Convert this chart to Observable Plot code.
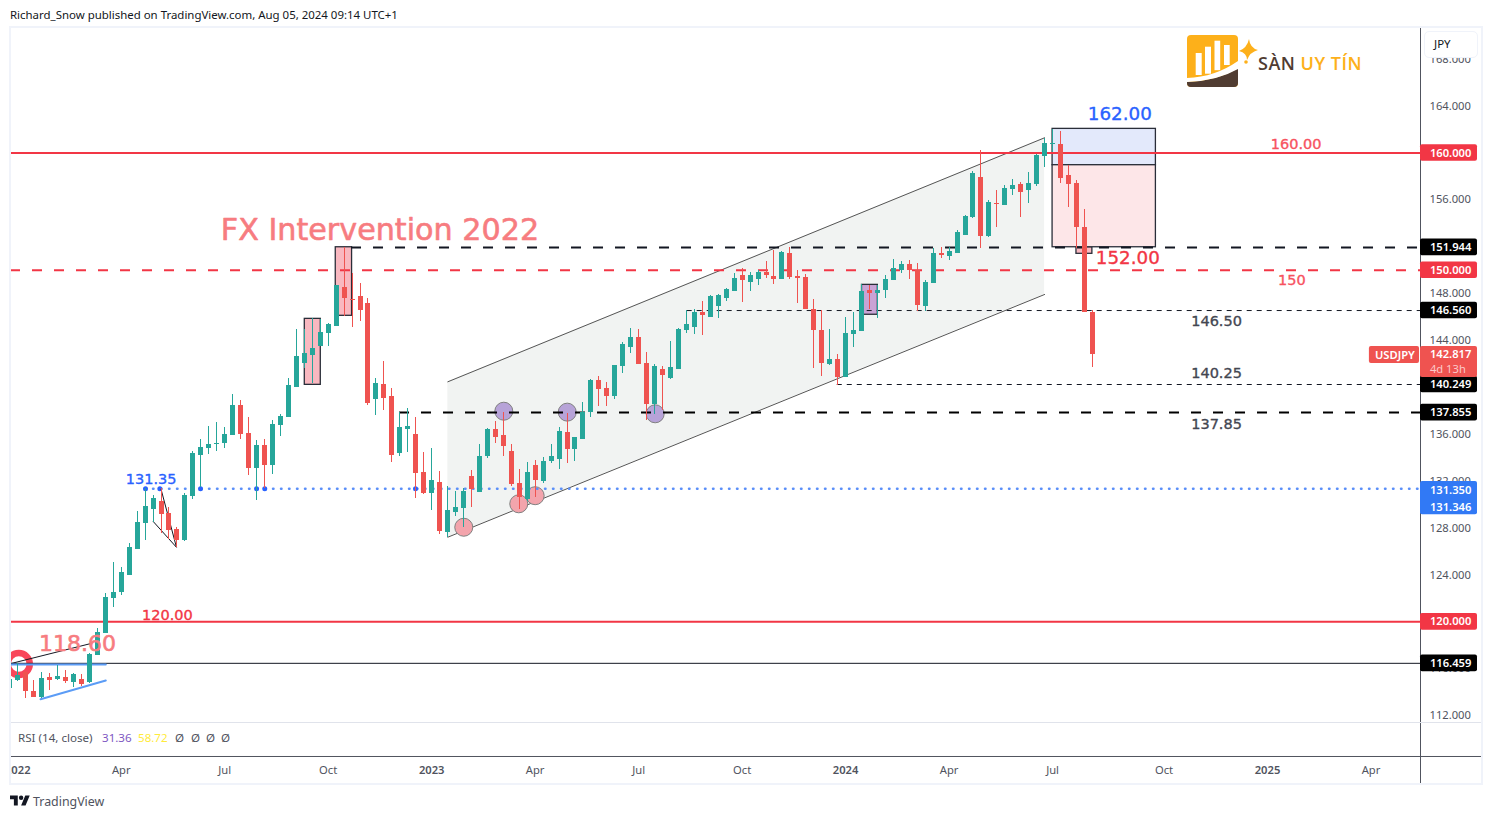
<!DOCTYPE html>
<html>
<head>
<meta charset="utf-8">
<script src="https://cdn.jsdelivr.net/npm/d3@7"></script>
<script src="https://cdn.jsdelivr.net/npm/@observablehq/plot@0.6"></script>
<style>
html,body{margin:0;padding:0;background:#fff;width:1492px;height:819px;overflow:hidden;font-family:"Noto Sans",Arial,sans-serif}
#head{position:absolute;left:10px;top:8px;font-size:11.45px;line-height:14px;color:#131722;white-space:nowrap}
#chart{position:absolute;left:0;top:27px;width:1492px;height:757px}
#chart svg{display:block;background:transparent}
#frame{position:absolute;left:9px;top:26px;width:1470px;height:755px;border:2px solid #f0f3fa;pointer-events:none;z-index:3}
#mask{position:absolute;left:0;top:27px;width:10px;height:757px;background:#fff;z-index:2}
#rsi{position:absolute;left:18px;top:731px;font-size:11.6px;line-height:14px;color:#50535e;white-space:nowrap;z-index:4}
#rsi span{position:absolute;top:0}
#jpy{position:absolute;left:1424px;top:31px;width:52px;height:25px;border:1.5px solid #f0f3fa;border-radius:5px;background:#fff;font-size:11.5px;line-height:24px;color:#131722;z-index:4;text-indent:9px}
#foot{position:absolute;left:10px;top:793px;height:16px;color:#50535e;font-size:12.4px;line-height:17px;z-index:4;display:flex;gap:3px;align-items:center}
#logo{position:absolute;left:1187px;top:35px;z-index:4}
#logoText{position:absolute;left:1258px;top:52px;font:600 18px/22px "Open Sans",sans-serif;letter-spacing:.5px;color:#503c32;z-index:4;white-space:nowrap}
#logoText b{color:#fdb01a;font-weight:600}
</style>
</head>
<body>
<div id="head">Richard_Snow published on TradingView.com, Aug 05, 2024 09:14 UTC+1</div>
<div id="chart"></div>
<div id="mask"></div>
<div id="frame"></div>
<div id="jpy">JPY</div>
<div id="rsi">RSI (14, close)<span style="left:84px;color:#7e57c2">31.36</span><span style="left:120px;color:#ffeb3b">58.72</span><span style="left:157px">Ø</span><span style="left:173px">Ø</span><span style="left:188px">Ø</span><span style="left:203px">Ø</span></div>
<svg id="logo" width="80" height="54" viewBox="0 0 80 54">
<rect width="51" height="52" rx="4" fill="#fdb01a"/>
<path d="M0 47Q30 46 51 33V48a4 4 0 0 1-4 4H4a4 4 0 0 1-4-4Z" fill="#503c32"/>
<path d="M0 43Q28 42 51 26V34Q30 46 0 47Z" fill="#fff"/>
<rect x="8.7" y="18" width="6" height="22" fill="#fff"/><rect x="18" y="11.7" width="6" height="27" fill="#fff"/><rect x="27.5" y="5.7" width="5.7" height="29.5" fill="#fff"/><rect x="37" y="10" width="5.7" height="20" fill="#fff"/>
<path d="M62 4Q63 13 71 15Q63 17 60 25Q60 18 52 16Q60 13 62 4Z" fill="#fdb01a"/>
<circle cx="59" cy="27" r="1.8" fill="#fdb01a"/>
</svg>
<div id="logoText">SÀN <b>UY TÍN</b></div>
<div id="foot"><svg width="20" height="16" viewBox="0 0 36 28"><path d="M14 22H7V11H0V4h14v18zM28 22h-8l7.5-18h8L28 22z" fill="#131722"/><circle cx="20" cy="8" r="4" fill="#131722"/></svg><span>TradingView</span></div>
<script>
// weekly USD/JPY candles
const open=[114.31,115.0,115.68,114.06,113.57,115.25,115.11,115.25,114.85,115.08,114.85,117.13,119.03,122.02,122.50,123.95,126.20,128.42,129.61,130.27,129.24,127.88,126.94,130.72,134.19,134.79,135.16,135.22,135.90,138.46,136.07,133.08,135.05,133.36,136.75,137.46,140.02,142.04,142.72,143.49,144.63,145.2,148.50,147.48,147.76,147.16,138.99,140.25,139.23,134.36,136.44,135.98,132.74,130.95,131.89,127.62,129.33,129.67,132.40,131.03,134.11,136.41,135.90,134.53,131.80,130.44,133.34,131.97,133.68,133.85,136.15,134.70,135.56,137.86,140.59,139.91,139.23,141.79,143.41,144.26,142.04,138.54,141.53,140.76,141.53,144.86,145.11,146.39,145.97,146.90,147.59,148.18,149.55,148.95,149.21,149.80,149.46,149.21,151.43,149.46,149.38,146.65,144.86,141.96,142.38,140.85,144.52,144.77,148.27,148.01,148.27,149.12,149.97,150.49,149.97,146.90,148.87,151.43,151.17,151.43,152.96,154.50,157.91,152.88,155.69,155.52,156.89,157.31,156.80,157.31,159.70,160.73,160.73,158.08,157.40,153.64,146.39];
const high=[115.34,116.44,115.76,115.0,115.68,115.59,116.27,115.85,115.62,115.48,117.27,119.41,122.39,125.06,124.66,126.66,129.41,131.35,130.78,131.35,129.78,128.07,130.92,134.53,135.53,136.67,137.01,136.55,139.39,138.88,137.46,135.47,135.56,137.18,137.69,140.73,144.94,144.94,145.86,145.82,145.43,148.7,151.95,149.74,148.84,147.56,140.73,142.21,139.88,137.86,138.17,137.43,134.45,134.79,132.83,131.55,131.12,131.38,132.91,135.13,136.50,137.09,137.83,135.13,133.0,133.59,133.76,134.02,135.13,136.58,137.77,135.73,138.71,140.65,140.93,140.42,141.87,143.83,145.03,144.94,142.98,141.96,141.79,143.92,145.03,146.56,146.62,147.33,147.84,147.93,148.44,149.72,150.15,149.80,149.97,150.74,151.68,151.60,151.94,149.97,149.63,147.50,146.56,144.94,142.81,145.97,146.39,148.78,148.70,148.70,149.55,150.91,150.74,150.83,150.57,149.12,151.85,151.94,151.94,153.39,154.67,158.42,160.21,155.95,156.80,157.23,157.74,157.48,158.34,159.87,161.24,162.0,161.84,158.93,157.65,155.18,146.56];
const low=[114.14,114.91,113.48,113.54,113.46,114.14,114.97,114.76,114.42,114.48,114.76,117.13,119.03,121.25,122.25,123.95,126.20,126.94,128.50,127.51,127.0,126.37,126.88,130.46,131.49,134.28,134.56,134.81,135.90,135.56,132.49,130.35,131.35,132.57,135.81,137.46,140.02,141.64,140.36,143.49,143.49,145.2,146.05,145.14,145.65,138.46,137.63,138.03,133.62,134.11,134.45,130.52,130.86,129.50,127.45,127.22,128.99,128.07,129.78,131.03,133.94,135.22,134.11,131.55,129.56,130.27,130.63,131.80,133.51,132.98,133.51,133.68,135.56,137.43,138.37,138.37,138.97,141.19,142.89,141.96,137.18,137.69,138.03,140.68,141.53,144.63,144.52,144.43,145.97,145.88,147.33,148.18,147.25,148.18,148.70,149.29,148.78,149.21,149.21,147.16,146.65,141.61,140.93,141.87,140.16,140.85,143.41,144.77,146.65,145.88,147.59,149.12,149.72,149.21,146.48,146.48,148.87,151.0,150.83,151.43,152.96,154.41,151.85,152.79,153.64,155.52,156.38,154.50,155.69,157.14,158.76,160.05,157.40,155.35,151.85,146.39,141.70];
const close=[115.08,115.42,114.08,113.57,115.16,115.02,115.33,114.93,115.51,114.68,117.21,119.09,122.05,122.50,124.21,126.32,128.45,129.84,130.50,129.16,127.79,126.94,130.78,134.36,134.87,135.13,135.24,135.98,138.46,135.98,133.08,135.05,133.36,136.84,137.52,140.16,142.64,142.87,143.32,144.69,145.37,148.7,147.59,147.42,146.56,138.65,140.33,139.05,134.19,136.58,136.67,132.65,130.95,132.06,127.71,129.50,129.75,131.12,131.29,134.11,136.41,135.73,134.96,131.72,130.61,132.74,132.06,133.68,134.11,136.24,134.70,135.73,137.86,140.56,139.82,139.23,141.87,143.66,144.26,141.96,138.54,141.79,141.02,141.70,144.94,145.37,146.39,146.14,147.76,147.84,148.35,149.29,149.12,149.55,149.80,149.55,149.21,151.51,149.38,149.29,146.65,144.86,142.04,142.38,140.85,144.60,144.86,148.18,148.01,148.27,149.21,150.15,150.49,149.97,146.99,148.95,151.43,151.26,151.60,153.22,154.58,158.25,152.88,155.78,155.60,156.97,157.23,156.63,157.40,159.79,160.81,160.81,157.82,157.31,153.64,146.39,142.82];

// axes
const priceTicks=[112,116,120,124,128,132,136,140,144,148,152,156,160,164,168];
const monthBars=[14,27,40,66,79,92,118,131,145,171];
const monthNames=["Apr","Jul","Oct","Apr","Jul","Oct","Apr","Jul","Oct","Apr"];
const yearBars=[1,53,105,158];
const yearNames=["2022","2023","2024","2025"];

// horizontal levels
const levelValues=[160,150,151.944,146.56,140.249,137.855,131.35,120,116.459];
const levelStart=[0.09,0.09,42.93,85.1,103.95,48.96,17.05,0.09,0.09];
const blueTouches=[17.05,18.85,23.96,31,32.03,50.97];

// price-scale tags
const tagValues=[160,151.944,150,146.56,140.249,137.855,120,116.459];
const tagColors=["#f23645","#000","#f23645","#000","#000","#000","#f23645","#000"];

// drawings
const channelBars=[55.03,130];
const channelUpper=[140.48,161.30];
const channelLower=[127.22,147.93];
const boxLeft=[37.06,40.95,107.06,134,131,131];
const boxRight=[39.07,43,109.05,136,143.98,143.98];
const boxTop=[145.85,151.96,148.75,151.96,162.06,158.96];
const boxBottom=[140.22,146.11,146.2,151.4,158.96,151.96];
const boxFills=["#f9b8c0","#f9b8c0","#c9a3d5","#f9b8c0","#e3e9fb","#fde6e8"];
const circleBars=[57.03,63.94,66,62.06,70.03,81.08];
const circlePrices=[128.07,130.07,130.76,137.97,137.89,137.75];
const circleFills=["#f3a4ac","#f3a4ac","#f3a4ac","#b7a3d8","#b7a3d8","#b7a3d8"];

// text notes
const noteText=["FX Intervention 2022","162.00","152.00","160.00","150","146.50","140.25","137.85","131.35","120.00","118.60"];
const noteBars=[46.5,139.45,140.45,161.6,161.05,151.6,151.6,151.6,17.75,19.8,8.5];
const notePrices=[153.39,163.29,151.0,160.77,149.12,145.62,141.19,136.84,132.14,120.54,118.07];
const noteSizes=[30.2,18.3,18.3,14.5,14.5,14.5,14.5,14.5,14.5,14.5,22];
const noteColors=["#f77c80","#2962ff","#f23645","#f7525f","#f7525f","#434651","#434651","#434651","#2962ff","#f23645","#f77c80"];

const bars=open.map((o,i)=>({i,o,h:high[i],l:low[i],c:close[i],col:close[i]>=o?"#26a69a":"#ef5350"}));
const xMin=0.09,xMax=177.22;
const tagX1=xMax,tagX2=184.38,tagTextX=178.4,scaleEnd=184.88;
const yBottom=111.41,yTop=170.71;
const GRAY="#50535e",TICKFONT='"Noto Sans",sans-serif',TICK=11.2;

const hline=(k,stroke,w,dash,cap)=>Plot.ruleY([levelValues[k]],{x1:levelStart[k],x2:xMax,stroke,strokeWidth:w,strokeDasharray:dash,strokeLinecap:cap});
const tagHalf=0.71;
const boxes=boxLeft.map((x1,k)=>({x1,x2:boxRight[k],y1:boxBottom[k],y2:boxTop[k],fill:boxFills[k]}));
const circles=circleBars.map((x,k)=>({x,y:circlePrices[k],fill:circleFills[k]}));
const notes=noteText.map((t,k)=>({t,x:noteBars[k],y:notePrices[k],s:noteSizes[k],c:noteColors[k]}));
const channel=channelBars.map((x,k)=>({x,hi:channelUpper[k],lo:channelLower[k]}));
const tags=tagValues.map((v,k)=>({v,c:tagColors[k]}));

const plot=Plot.plot({
  width:1492,height:757,
  marginLeft:10,marginRight:72,marginTop:0,marginBottom:62,
  style:{background:"transparent",fontFamily:TICKFONT,overflow:"visible"},
  x:{type:"linear",domain:[xMin,xMax],axis:null},
  y:{type:"linear",domain:[yBottom,yTop],axis:null},
  marks:[
    Plot.areaY(channel,{x:"x",y1:"lo",y2:"hi",fill:"#f1f3f2"}),
    Plot.line(channel,{x:"x",y:"hi",stroke:"#555",strokeWidth:1}),
    Plot.line(channel,{x:"x",y:"lo",stroke:"#555",strokeWidth:1}),
    Plot.rect(boxes,{x1:"x1",x2:"x2",y1:"y1",y2:"y2",fill:"fill",stroke:"#2a2e39",strokeWidth:1.3}),
    Plot.dot(circles,{x:"x",y:"y",r:9,fill:"fill",stroke:"#808080",strokeWidth:1}),
    Plot.dot([{x:1.13,y:116.4}],{x:"x",y:"y",r:11,fill:"none",stroke:"#f8465a",strokeWidth:6.5}),
    // levels
    hline(0,"#f23645",2),
    hline(1,"#f23645",2,"10,12"),
    hline(2,"#131722",2,"10,12"),
    hline(3,"#131722",1,"5,5"),
    hline(4,"#131722",1,"5,5"),
    hline(5,"#000",2,"10,12"),
    hline(6,"#5b8ff9",2.5,"0.5,7.5","round"),
    hline(7,"#f23645",2),
    hline(8,"#131722",1),
    Plot.dot(blueTouches,{x:d=>d,y:()=>levelValues[6],r:2.5,fill:"#2962ff"}),
    // pattern lines
    Plot.line([{x:0.09,y:116.43},{x:10.14,y:118.14}],{x:"x",y:"y",stroke:"#131722",strokeWidth:1}),
    Plot.line([{x:0.09,y:116.35},{x:12.06,y:116.35}],{x:"x",y:"y",stroke:"#5b9cf6",strokeWidth:2}),
    Plot.line([{x:3.86,y:113.4},{x:12.06,y:115.0}],{x:"x",y:"y",stroke:"#5b9cf6",strokeWidth:2}),
    Plot.line([{x:19.02,y:131.27},{x:20.94,y:126.36},{x:18.02,y:128.56}],{x:"x",y:"y",stroke:"#131722",strokeWidth:1}),
    // candles
    Plot.ruleX(bars,{x:"i",y1:"l",y2:"h",stroke:"col",strokeWidth:1,shapeRendering:"crispEdges"}),
    Plot.ruleX(bars,{x:"i",y1:"o",y2:"c",stroke:"col",strokeWidth:5,shapeRendering:"crispEdges"}),
    // chart notes
    ...notes.map(n=>Plot.text([n],{x:"x",y:"y",text:"t",fill:"c",stroke:"c",strokeWidth:n.s>20?0.6:0.35,fontSize:n.s,fontFamily:'"DejaVu Sans",sans-serif'})),
    // axes
    Plot.ruleX([xMax],{stroke:GRAY,strokeWidth:1,y1:yBottom-5.29,y2:yTop}),
    Plot.ruleY([yBottom],{x1:xMin,x2:scaleEnd,stroke:"#e0e3eb",strokeWidth:1}),
    Plot.ruleY([yBottom-2.9],{x1:xMin,x2:scaleEnd,stroke:GRAY,strokeWidth:1}),
    Plot.axisY(priceTicks,{anchor:"right",tickSize:0,tickPadding:9,tickFormat:d3.format(".3f"),fontSize:TICK,fontFamily:TICKFONT,color:GRAY,label:null}),
    Plot.axisX(monthBars,{anchor:"bottom",tickSize:0,tickPadding:43.5,tickFormat:v=>monthNames[monthBars.indexOf(v)],fontSize:TICK,fontFamily:TICKFONT,color:GRAY,label:null}),
    Plot.axisX(yearBars,{anchor:"bottom",tickSize:0,tickPadding:43.5,tickFormat:v=>yearNames[yearBars.indexOf(v)],fontSize:TICK,fontFamily:TICKFONT,fontWeight:600,color:GRAY,label:null}),
    // price tags
    Plot.rect(tags,{x1:tagX1,x2:tagX2,y1:d=>d.v-tagHalf,y2:d=>d.v+tagHalf,fill:"c",rx:2}),
    Plot.text(tags,{x:tagTextX,y:"v",text:d=>d3.format(".3f")(d.v),fill:"#fff",fontSize:TICK,fontWeight:600,fontFamily:TICKFONT,textAnchor:"start"}),
    Plot.rect([{}],{x1:tagX1,x2:tagX2,y1:129.13,y2:131.97,fill:"#3179f5",rx:2}),
    Plot.text(["131.350","131.346"],{x:tagTextX,y:(d,i)=>[131.2,129.75][i],text:d=>d,fill:"#fff",fontSize:TICK,fontWeight:600,fontFamily:TICKFONT,textAnchor:"start"}),
    Plot.rect([{}],{x1:tagX1,x2:tagX2,y1:140.85,y2:143.49,fill:"#ef5350",rx:2}),
    Plot.text(["142.817"],{x:tagTextX,y:142.8,text:d=>d,fill:"#fff",fontSize:TICK,fontWeight:600,fontFamily:TICKFONT,textAnchor:"start"}),
    Plot.text(["4d 13h"],{x:tagTextX,y:141.53,text:d=>d,fill:"#fbc9c9",fontSize:TICK,fontFamily:TICKFONT,textAnchor:"start"}),
    Plot.rect([{}],{x1:170.8,x2:177.1,y1:142.04,y2:143.49,fill:"#ef5350",rx:2}),
    Plot.text(["USDJPY"],{x:174,y:142.77,text:d=>d,fill:"#fff",fontSize:TICK,fontWeight:600,fontFamily:TICKFONT})
  ]
});
document.getElementById("chart").append(plot);
</script>
</body>
</html>
